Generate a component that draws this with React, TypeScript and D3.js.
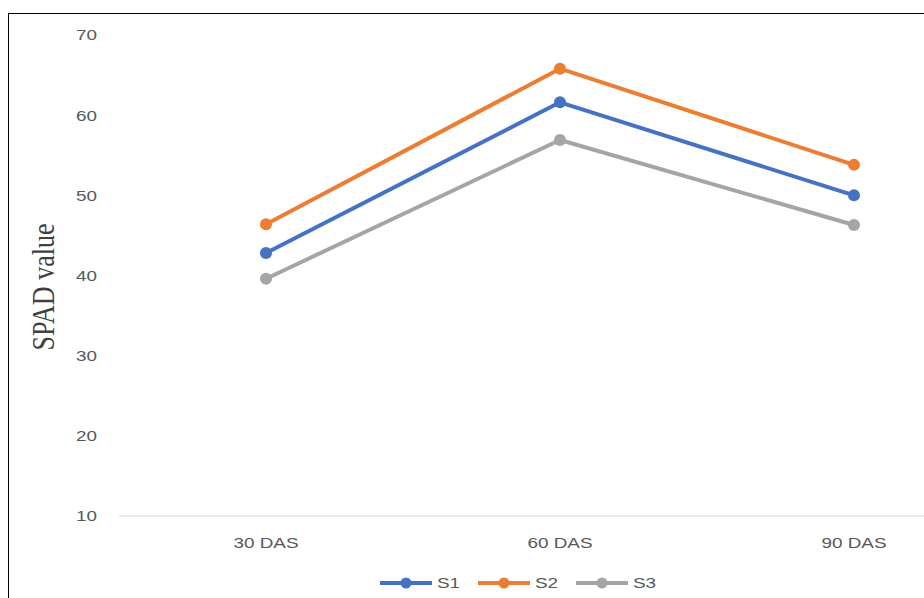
import React from "react";
import * as d3 from "d3";

const categories = ["30 DAS", "60 DAS", "90 DAS"];
const seriesNames = ["S1", "S2", "S3"];
const s1Values = [42.8, 61.6, 50.0];
const s2Values = [46.4, 65.8, 53.8];
const s3Values = [39.6, 56.9, 46.3];
const errorValues = [0.5, 0.5, 0.5];
const yTicks = [10, 20, 30, 40, 50, 60, 70];
const colors = ["#4472C4", "#ED7D31", "#A5A5A5"];

const W = 924;
const H = 598;
const SX = 1.22; // horizontal stretch of the label glyphs

export default function App() {
  const x = d3.scalePoint<string>().domain(categories).range([266, 854]);
  const y = d3.scaleLinear().domain([10, 70]).range([516, 35]);
  const line = d3
    .line<[string, number]>()
    .x((d) => x(d[0]) as number)
    .y((d) => y(d[1]));

  const allSeries = [s1Values, s2Values, s3Values];
  const legendX = [380, 478, 576];
  const font = "'Liberation Sans', Arial, sans-serif";

  return (
    <svg
      width={W}
      height={H}
      style={{ position: "absolute", left: 0, top: 0, background: "#fff" }}
    >
      <rect x={0} y={0} width={W} height={H} fill="#fff" />
      {/* outer frame */}
      <line x1={8} y1={13.5} x2={W} y2={13.5} stroke="#000" strokeWidth={1} />
      <line x1={8.5} y1={13} x2={8.5} y2={H} stroke="#000" strokeWidth={1} />

      {/* baseline */}
      <line x1={119} x2={W} y1={y(10)} y2={y(10)} stroke="#D9D9D9" strokeWidth={1.2} />

      {/* y tick labels */}
      {yTicks.map((t) => (
        <text
          key={t}
          transform={`translate(97,${y(t)}) scale(${SX},1)`}
          dy="0.35em"
          textAnchor="end"
          fontFamily={font}
          fontSize={15.5}
          fill="#595959"
        >
          {t}
        </text>
      ))}

      {/* x tick labels */}
      {categories.map((c) => (
        <text
          key={c}
          transform={`translate(${x(c)},548) scale(${SX},1)`}
          textAnchor="middle"
          fontFamily={font}
          fontSize={15.5}
          fill="#595959"
        >
          {c}
        </text>
      ))}

      {/* y axis title */}
      <text
        transform={`translate(54,287) scale(${SX},1) rotate(-90)`}
        textAnchor="middle"
        fontFamily="'Liberation Serif', 'Times New Roman', serif"
        fontSize={26}
        fill="#404040"
      >
        SPAD value
      </text>

      {/* series */}
      {allSeries.map((vals, i) => {
        const pts = categories.map((c, j) => [c, vals[j]] as [string, number]);
        return (
          <g key={seriesNames[i]}>
            <path
              d={line(pts) || ""}
              fill="none"
              stroke={colors[i]}
              strokeWidth={4}
              strokeLinejoin="round"
            />
            {pts.map((p, j) => (
              <g key={j}>
                <line
                  x1={x(p[0])}
                  x2={x(p[0])}
                  y1={y(p[1] + errorValues[j])}
                  y2={y(p[1] - errorValues[j])}
                  stroke={colors[i]}
                  strokeWidth={1.5}
                />
                <line
                  x1={(x(p[0]) as number) - 3}
                  x2={(x(p[0]) as number) + 3}
                  y1={y(p[1] + errorValues[j])}
                  y2={y(p[1] + errorValues[j])}
                  stroke={colors[i]}
                  strokeWidth={1.5}
                />
                <line
                  x1={(x(p[0]) as number) - 3}
                  x2={(x(p[0]) as number) + 3}
                  y1={y(p[1] - errorValues[j])}
                  y2={y(p[1] - errorValues[j])}
                  stroke={colors[i]}
                  strokeWidth={1.5}
                />
                <circle cx={x(p[0])} cy={y(p[1])} r={6} fill={colors[i]} />
              </g>
            ))}
          </g>
        );
      })}

      {/* legend */}
      {seriesNames.map((n, i) => (
        <g key={n} transform={`translate(${legendX[i]},583)`}>
          <line x1={0} x2={52} y1={0} y2={0} stroke={colors[i]} strokeWidth={4} />
          <circle cx={26} cy={0} r={5.5} fill={colors[i]} />
          <text
            transform={`translate(57,0) scale(${SX},1)`}
            dy="0.35em"
            fontFamily={font}
            fontSize={15.5}
            fill="#595959"
          >
            {n}
          </text>
        </g>
      ))}
    </svg>
  );
}
